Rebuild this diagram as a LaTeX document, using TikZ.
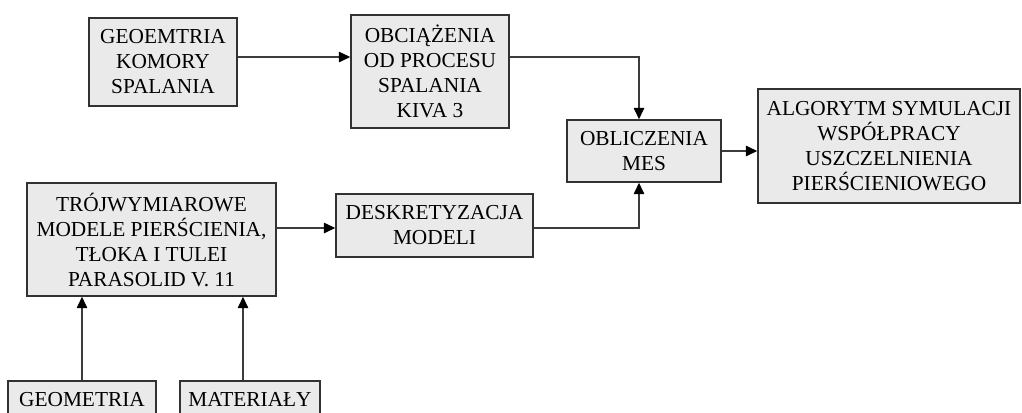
\documentclass[tikz,border=0pt]{standalone}
\usepackage{fontspec}
\setmainfont{Liberation Serif}
\usepackage{tikz}
\usetikzlibrary{arrows.meta, positioning, calc}
\definecolor{boxfill}{RGB}{234,234,234}
\definecolor{boxline}{RGB}{50,50,50}
\definecolor{linecol}{RGB}{60,60,60}
\tikzset{
  basebox/.style={rectangle,draw=boxline,fill=boxfill,line width=1.1pt,align=center,
    inner sep=0pt,font=\fontsize{16}{18.75}\selectfont},
  arr/.style={-{Triangle[length=8.5pt,width=7.8pt,color=black]},line width=1pt,color=linecol}
}
\begin{document}
\begin{tikzpicture}[x=0.75pt,y=-0.75pt]
  \clip (0,0) rectangle (1022,412);
  \useasboundingbox (0,0) rectangle (1022,412);

  %% Upper branch
  \node[basebox,minimum width=111pt,minimum height=66pt] (geokom) at (163,62)
    {GEOEMTRIA\\KOMORY\\SPALANIA};
  \node[basebox,minimum width=118.5pt,minimum height=84.75pt] (obc) at (430,71.5)
    {OBCIĄŻENIA\\OD PROCESU\\SPALANIA\\KIVA 3};

  %% Calculation and result
  \node[basebox,minimum width=115.5pt,minimum height=46.5pt] (mes) at (644,151)
    {OBLICZENIA\\MES};
  \node[basebox,minimum width=196.5pt,minimum height=85.5pt] (alg) at (889,146)
    {ALGORYTM SYMULACJI\\WSPÓŁPRACY\\USZCZELNIENIA\\PIERŚCIENIOWEGO};

  %% Lower branch
  \node[basebox,minimum width=186.75pt,minimum height=84.75pt] (troj) at (151.5,239.5)
    {TRÓJWYMIAROWE\\MODELE PIERŚCIENIA,\\TŁOKA I TULEI\\PARASOLID V. 11};
  \node[basebox,minimum width=147.75pt,minimum height=47.25pt] (desk) at (434.5,225.5)
    {DESKRETYZACJA\\MODELI};

  %% Inputs at the bottom
  \node[basebox,minimum width=111pt,minimum height=27.75pt] (geom) at (82,399.5)
    {GEOMETRIA};
  \node[basebox,minimum width=105pt,minimum height=27.75pt] (mat) at (250,399.5)
    {MATERIAŁY};

  %% Connector levels
  \coordinate (upy) at (0,57);
  \coordinate (lowy) at (0,228);
  \coordinate (jx) at (639,0);
  \coordinate (matx) at (243,0);

  %% Connectors
  \draw[arr] (geokom.east|-upy) -- (obc.west|-upy);
  \draw[arr] (obc.east|-upy) -| (jx|-mes.north);
  \draw[arr] (troj.east|-lowy) -- (desk.west|-lowy);
  \draw[arr] (desk.east|-lowy) -| (jx|-mes.south);
  \draw[arr] (mes.east) -- (alg.west|-mes.east);
  \draw[arr] (geom.north) -- (geom.north|-troj.south);
  \draw[arr] (matx|-mat.north) -- (matx|-troj.south);
\end{tikzpicture}
\end{document}
